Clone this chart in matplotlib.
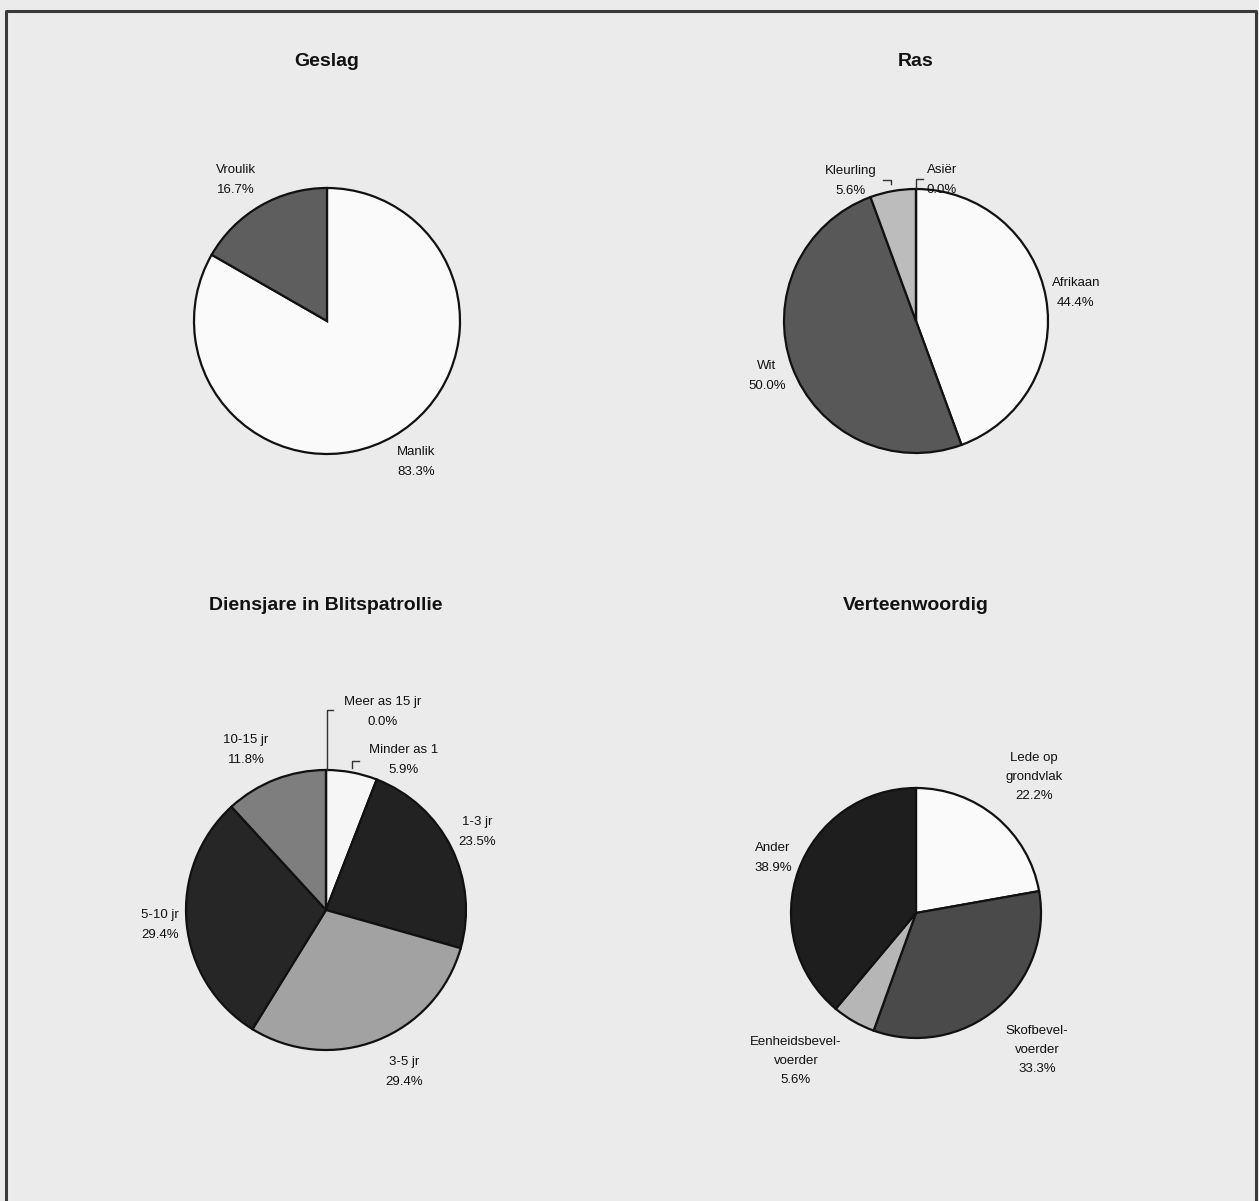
import matplotlib
matplotlib.use("Agg")
import matplotlib.pyplot as plt

# ---------------- data ----------------
geslag_labels = ["Manlik", "Vroulik"]
geslag_values = [83.3, 16.7]

ras_labels = ["Afrikaan", "Wit", "Kleurling", "Asiër"]
ras_values = [44.4, 50.0, 5.6, 0.0]

diens_labels = ["Minder as 1", "1-3 jr", "3-5 jr", "5-10 jr", "10-15 jr", "Meer as 15 jr"]
diens_values = [5.9, 23.5, 29.4, 29.4, 11.8, 0.0]

vert_labels = ["Lede op\ngrondvlak", "Skofbevel-\nvoerder", "Eenheidsbevel-\nvoerder", "Ander"]
vert_values = [22.2, 33.3, 5.6, 38.9]

titles = ["Geslag", "Ras", "Diensjare in Blitspatrollie", "Verteenwoordig"]

# ---------------- styling / layout ----------------
W, H = 1259, 1201
BG = "#ebebeb"
plt.rcParams['font.family'] = ['Liberation Sans', 'DejaVu Sans']

fig = plt.figure(figsize=(W / 100, H / 100), dpi=100, facecolor=BG)
ax = fig.add_axes([0, 0, 1, 1])
ax.set_facecolor(BG)


def Y(py):
    return H - py


charts = [
    dict(labels=geslag_labels, values=geslag_values,
         colors=["#fafafa", "#5e5e5e"],
         center=(327, 321), r=133, title_xy=(327, 61),
         label_xy=[(416, 462), (236, 180)]),
    dict(labels=ras_labels, values=ras_values,
         colors=["#fafafa", "#585858", "#bcbcbc", "#2a2a2a"],
         center=(916, 321), r=132, title_xy=(916, 61),
         label_xy=[(1076, 293), (767, 376), (851, 181), (942, 180)]),
    dict(labels=diens_labels, values=diens_values,
         colors=["#f6f6f6", "#222222", "#a2a2a2", "#262626", "#7e7e7e", "#111111"],
         center=(326, 910), r=140, title_xy=(326, 606),
         label_xy=[(404, 760), (477, 832), (404, 1072), (160, 925), (246, 750), (383, 712)]),
    dict(labels=vert_labels, values=vert_values,
         colors=["#fafafa", "#4a4a4a", "#b6b6b6", "#1e1e1e"],
         center=(916, 913), r=125, title_xy=(916, 606),
         label_xy=[(1034, 777), (1037, 1050), (796, 1061), (773, 858)]),
]

for ch, title in zip(charts, titles):
    cx, cy = ch["center"]
    ax.pie(ch["values"], colors=ch["colors"], startangle=90, counterclock=False,
           center=(cx, Y(cy)), radius=ch["r"],
           wedgeprops=dict(edgecolor="#111111", linewidth=1.6))
    ax.text(ch["title_xy"][0], Y(ch["title_xy"][1]), title, ha="center", va="center",
            fontsize=14, fontweight="bold", color="#111111")
    for lab, val, (lx, ly) in zip(ch["labels"], ch["values"], ch["label_xy"]):
        ax.text(lx, Y(ly), f"{lab}\n{val:.1f}%", ha="center", va="center",
                fontsize=9.5, color="#111111", linespacing=1.8)

# leader lines for small slices
lc = dict(color="#333333", linewidth=1.0)
# Asiër
ax.plot([916, 916, 923], [Y(188), Y(179), Y(179)], **lc)
# Kleurling
ax.plot([883, 891, 891], [Y(180), Y(180), Y(184)], **lc)
# Meer as 15 jr
ax.plot([327, 327, 333], [Y(770), Y(710), Y(710)], **lc)
# Minder as 1
ax.plot([352, 352, 359], [Y(768), Y(761), Y(761)], **lc)

# outer frame
ax.plot([6, 6, 1256, 1256], [Y(1205), Y(11), Y(11), Y(1205)], color="#3a3a3a", linewidth=2.2)

ax.set_xlim(0, W)
ax.set_ylim(0, H)
ax.set_aspect("equal")
ax.axis("off")

fig.savefig("out.png", dpi=100, facecolor=BG)
